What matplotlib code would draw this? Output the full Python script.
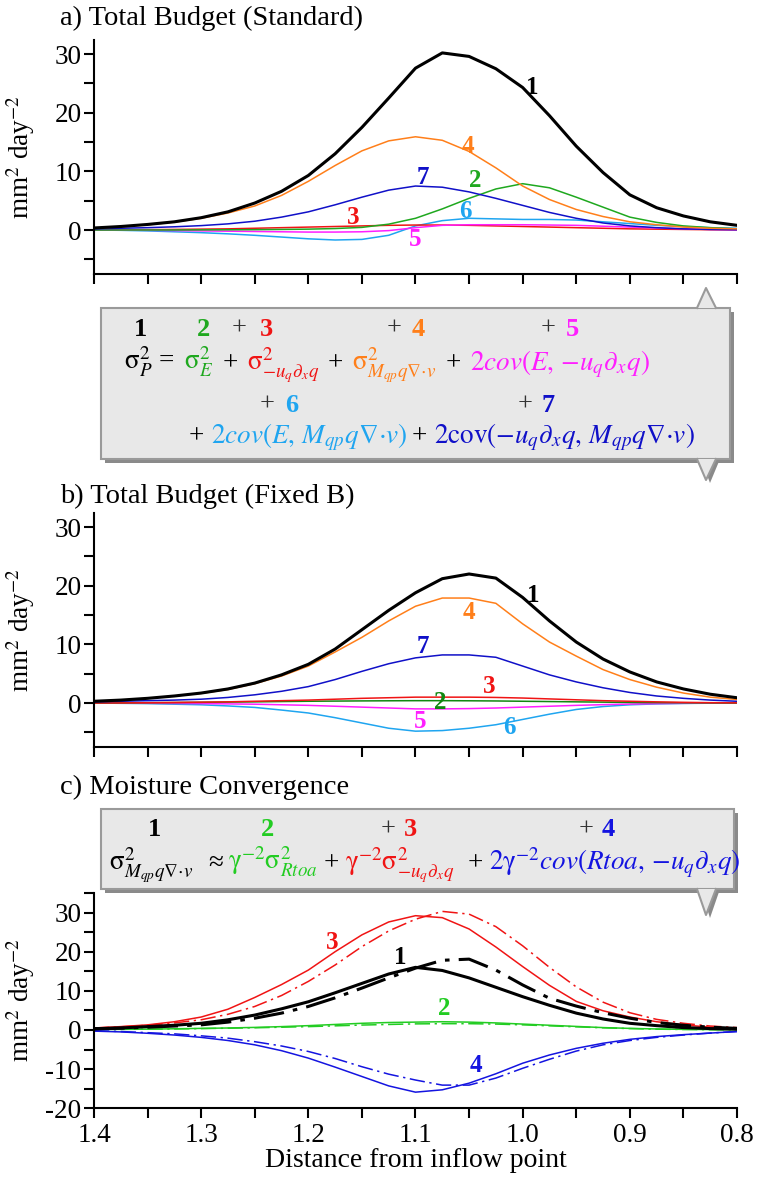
import matplotlib
matplotlib.use("Agg")
import matplotlib.pyplot as plt
from matplotlib.patches import Rectangle, Polygon
from matplotlib.ticker import MultipleLocator

plt.rcParams['font.family'] = ['Liberation Serif', 'DejaVu Serif']
plt.rcParams['mathtext.fontset'] = 'stix'
plt.rcParams['axes.unicode_minus'] = False

# distance from inflow point (every 0.025)
dist = [1.4, 1.375, 1.35, 1.325, 1.3, 1.275, 1.25, 1.225, 1.2, 1.175, 1.15, 1.125, 1.1,
        1.075, 1.05, 1.025, 1.0, 0.975, 0.95, 0.925, 0.9, 0.875, 0.85, 0.825, 0.8]

# a) Total Budget (Standard)
a_total = [0.35, 0.6, 0.95, 1.4, 2.1, 3.1, 4.6, 6.6, 9.3, 13.0, 17.5, 22.5, 27.6,
           30.2, 29.6, 27.5, 24.3, 19.5, 14.3, 9.8, 6.0, 3.8, 2.4, 1.4, 0.8]
a_evap = [0.0, 0.0, 0.0, 0.0, 0.02, 0.04, 0.06, 0.1, 0.15, 0.25, 0.45, 1.0, 2.0,
          3.6, 5.4, 7.0, 7.9, 7.2, 5.6, 3.9, 2.2, 1.3, 0.7, 0.4, 0.2]
a_adv = [0.0, 0.03, 0.06, 0.1, 0.15, 0.2, 0.3, 0.4, 0.5, 0.6, 0.7, 0.8, 0.85,
         0.85, 0.8, 0.7, 0.6, 0.5, 0.4, 0.3, 0.2, 0.15, 0.1, 0.05, 0.03]
a_conv = [0.3, 0.55, 0.9, 1.35, 2.0, 2.9, 4.1, 5.9, 8.3, 11.0, 13.5, 15.2, 15.9,
          15.3, 13.4, 10.6, 7.5, 5.2, 3.5, 2.3, 1.4, 0.9, 0.5, 0.3, 0.2]
a_cov_e_adv = [0.0, -0.02, -0.05, -0.1, -0.15, -0.2, -0.25, -0.3, -0.35, -0.35, -0.3, -0.1, 0.4,
               0.8, 0.9, 0.9, 0.9, 0.85, 0.8, 0.65, 0.5, 0.35, 0.2, 0.1, 0.05]
a_cov_e_conv = [0.0, -0.05, -0.15, -0.3, -0.45, -0.65, -0.9, -1.2, -1.5, -1.7, -1.6, -0.9, 0.7,
                1.6, 2.0, 1.9, 1.8, 1.8, 1.7, 1.4, 1.1, 0.8, 0.6, 0.4, 0.3]
a_cov_adv_conv = [0.2, 0.3, 0.4, 0.55, 0.75, 1.05, 1.5, 2.2, 3.1, 4.3, 5.6, 6.8, 7.5,
                  7.3, 6.5, 5.4, 4.2, 3.0, 2.0, 1.2, 0.7, 0.4, 0.2, 0.1, 0.05]

# b) Total Budget (Fixed B)
b_total = [0.3, 0.5, 0.8, 1.2, 1.7, 2.4, 3.4, 4.8, 6.6, 9.2, 12.5, 15.8, 18.8,
           21.2, 22.0, 21.3, 18.0, 14.0, 10.4, 7.5, 5.3, 3.6, 2.4, 1.5, 0.9]
b_evap = [0.0, 0.02, 0.05, 0.08, 0.12, 0.16, 0.2, 0.25, 0.3, 0.33, 0.36, 0.38, 0.4,
          0.4, 0.38, 0.35, 0.3, 0.25, 0.2, 0.15, 0.1, 0.07, 0.04, 0.02, 0.01]
b_adv = [0.0, 0.02, 0.05, 0.1, 0.15, 0.2, 0.3, 0.4, 0.5, 0.65, 0.8, 0.9, 1.0,
         1.0, 1.0, 0.95, 0.85, 0.7, 0.55, 0.4, 0.3, 0.2, 0.12, 0.06, 0.03]
b_conv = [0.3, 0.5, 0.8, 1.2, 1.65, 2.3, 3.3, 4.6, 6.3, 8.7, 11.2, 14.0, 16.5,
          17.9, 17.9, 17.0, 13.5, 10.4, 8.0, 5.7, 4.0, 2.7, 1.7, 1.0, 0.6]
b_cov_e_adv = [0.0, -0.02, -0.04, -0.07, -0.1, -0.15, -0.2, -0.3, -0.4, -0.55, -0.7, -0.85, -1.0,
               -1.0, -0.95, -0.85, -0.7, -0.55, -0.4, -0.28, -0.18, -0.1, -0.05, -0.02, 0.0]
b_cov_e_conv = [0.0, -0.05, -0.1, -0.2, -0.3, -0.5, -0.75, -1.2, -1.7, -2.5, -3.4, -4.3, -4.8,
                -4.7, -4.3, -3.7, -2.8, -1.9, -1.1, -0.6, -0.3, -0.15, -0.07, -0.03, 0.0]
b_cov_adv_conv = [0.2, 0.3, 0.4, 0.5, 0.65, 0.95, 1.4, 2.0, 2.8, 4.0, 5.4, 6.7, 7.7,
                  8.2, 8.2, 7.8, 6.3, 4.8, 3.6, 2.6, 1.8, 1.2, 0.8, 0.5, 0.3]

# c) Moisture Convergence (solid = standard, dash-dot = fixed B)
c_total = [0.3, 0.5, 0.85, 1.2, 1.7, 2.6, 3.8, 5.4, 7.2, 9.5, 11.9, 14.3, 16.0,
           15.2, 13.3, 10.9, 8.5, 6.3, 4.3, 2.8, 1.7, 1.1, 0.6, 0.35, 0.2]
c_total_fix = [0.3, 0.45, 0.7, 1.0, 1.3, 2.0, 3.0, 4.3, 6.0, 8.2, 10.7, 13.3, 15.8,
               17.8, 18.1, 15.3, 11.5, 8.1, 6.1, 4.4, 3.0, 1.9, 1.2, 0.7, 0.4]
c_rad = [0.1, 0.15, 0.2, 0.3, 0.4, 0.5, 0.65, 0.85, 1.1, 1.4, 1.7, 1.9, 2.0,
         2.1, 2.0, 1.8, 1.5, 1.2, 0.9, 0.6, 0.4, 0.25, 0.15, 0.1, 0.05]
c_rad_fix = [0.1, 0.15, 0.2, 0.25, 0.35, 0.45, 0.55, 0.7, 0.85, 1.05, 1.25, 1.4, 1.55,
             1.6, 1.6, 1.5, 1.3, 1.05, 0.8, 0.55, 0.35, 0.2, 0.12, 0.07, 0.04]
c_adv = [0.5, 0.85, 1.3, 2.1, 3.3, 5.3, 8.3, 11.6, 15.3, 20.0, 24.3, 27.6, 29.2,
         28.7, 25.8, 21.2, 16.2, 11.4, 7.3, 4.9, 3.3, 2.1, 1.3, 0.7, 0.4]
c_adv_fix = [0.5, 0.8, 1.2, 1.8, 2.6, 4.0, 6.0, 8.8, 12.4, 16.6, 21.3, 25.3, 28.3,
             30.3, 29.6, 26.4, 21.5, 16.0, 11.0, 7.1, 4.4, 2.7, 1.7, 1.0, 0.6]
c_cov = [-0.3, -0.5, -0.85, -1.3, -1.9, -2.7, -3.8, -5.3, -7.2, -9.5, -11.9, -14.3, -15.9,
         -15.3, -13.6, -11.2, -8.5, -6.4, -4.7, -3.4, -2.4, -1.7, -1.2, -0.8, -0.4]
c_cov_fix = [-0.2, -0.4, -0.7, -1.0, -1.5, -2.1, -3.0, -4.1, -5.5, -7.3, -9.4, -11.3, -12.8,
             -14.1, -14.1, -12.3, -9.8, -7.5, -5.4, -3.8, -2.7, -1.9, -1.3, -0.8, -0.4]

BLACK = 'black'
GREEN = '#1fa81f'
RED = '#f01414'
ORANGE = '#ff7f1a'
MAGENTA = '#ff1fff'
CYAN = '#1fa5f0'
BLUE = '#1010c8'
GREEN_C = '#22cc22'
BLUE_C = '#1414e0'

W, H = 757, 1182
fig = plt.figure(figsize=(W / 100, H / 100), dpi=100)


def fx(px):
    return px / W


def fy(py):
    return 1 - py / H


def make_axes(top, bottom):
    ax = fig.add_axes([fx(94), fy(bottom), 643 / W, (bottom - top) / H])
    ax.spines['top'].set_visible(False)
    ax.spines['right'].set_visible(False)
    for s in ['left', 'bottom']:
        ax.spines[s].set_linewidth(1.5)
    ax.set_xlim(1.4, 0.8)
    ax.xaxis.set_major_locator(MultipleLocator(0.1))
    ax.xaxis.set_minor_locator(MultipleLocator(0.05))
    ax.yaxis.set_major_locator(MultipleLocator(10))
    ax.yaxis.set_minor_locator(MultipleLocator(5))
    ax.tick_params(which='both', direction='out', length=7, width=1.5, labelsize=19.5, pad=2)
    ax.set_ylabel(r'mm$^2$ day$^{-2}$', fontsize=19.5)
    ax.yaxis.set_label_coords(-0.088, 0.5)
    return ax


# ---- panel a
ax = make_axes(40, 274.3)
ax.set_ylim(-7.55, 32.4)
ax.tick_params(axis='x', labelbottom=False)
ax.plot(dist, a_cov_e_conv, color=CYAN, lw=1.1)
ax.plot(dist, a_adv, color=RED, lw=1.1)
ax.plot(dist, a_cov_e_adv, color=MAGENTA, lw=1.1)
ax.plot(dist, a_evap, color=GREEN, lw=1.1)
ax.plot(dist, a_cov_adv_conv, color=BLUE, lw=1.1)
ax.plot(dist, a_conv, color=ORANGE, lw=1.1)
ax.plot(dist, a_total, color=BLACK, lw=2.2)
for s, c, x, y in [('1', BLACK, 0.991, 24.3), ('4', ORANGE, 1.051, 14.3), ('7', BLUE, 1.093, 9.0),
                   ('2', GREEN, 1.044, 8.5), ('6', CYAN, 1.053, 3.2), ('3', RED, 1.158, 2.2),
                   ('5', MAGENTA, 1.1, -1.6)]:
    ax.text(x, y, s, color=c, fontsize=18, fontweight='bold', ha='center', va='center')

# ---- panel b
ax = make_axes(513, 747.3)
ax.set_ylim(-7.55, 32.4)
ax.tick_params(axis='x', labelbottom=False)
ax.plot(dist, b_cov_e_conv, color=CYAN, lw=1.1)
ax.plot(dist, b_cov_e_adv, color=MAGENTA, lw=1.1)
ax.plot(dist, b_evap, color='#118811', lw=1.1)
ax.plot(dist, b_adv, color=RED, lw=1.1)
ax.plot(dist, b_cov_adv_conv, color=BLUE, lw=1.1)
ax.plot(dist, b_conv, color=ORANGE, lw=1.1)
ax.plot(dist, b_total, color=BLACK, lw=2.2)
for s, c, x, y in [('1', BLACK, 0.99, 18.4), ('4', ORANGE, 1.05, 15.4), ('7', BLUE, 1.093, 9.6),
                   ('3', RED, 1.031, 2.8), ('2', '#118811', 1.077, 0.05), ('5', MAGENTA, 1.096, -3.2),
                   ('6', CYAN, 1.012, -4.2)]:
    ax.text(x, y, s, color=c, fontsize=18, fontweight='bold', ha='center', va='center')

# ---- panel c
ax = make_axes(893, 1108.2)
ax.set_ylim(-20, 35)
ax.set_yticks([-20, -10, 0, 10, 20, 30])
dd = (0, (10, 3, 1.5, 3))
ax.plot(dist, c_rad, color=GREEN_C, lw=1.1)
ax.plot(dist, c_rad_fix, color=GREEN_C, lw=1.1, ls=dd)
ax.plot(dist, c_cov, color=BLUE_C, lw=1.1)
ax.plot(dist, c_cov_fix, color=BLUE_C, lw=1.1, ls=dd)
ax.plot(dist, c_adv, color=RED, lw=1.1)
ax.plot(dist, c_adv_fix, color=RED, lw=1.1, ls=dd)
ax.plot(dist, c_total, color=BLACK, lw=2.2)
ax.plot(dist, c_total_fix, color=BLACK, lw=2.2, ls=dd)
ax.set_xticks([1.4, 1.3, 1.2, 1.1, 1.0, 0.9, 0.8])
ax.set_xticklabels(['1.4', '1.3', '1.2', '1.1', '1.0', '0.9', '0.8'])
ax.tick_params(axis='x', pad=4)
ax.set_xlabel('Distance from inflow point', fontsize=20, labelpad=0)
for s, c, x, y in [('3', RED, 1.178, 22.3), ('1', BLACK, 1.114, 18.5),
                   ('2', GREEN_C, 1.073, 5.4), ('4', BLUE_C, 1.044, -9.2)]:
    ax.text(x, y, s, color=c, fontsize=18, fontweight='bold', ha='center', va='center')

# ---- panel titles
fig.text(fx(60), fy(18), 'a) Total Budget (Standard)', fontsize=20.5, va='center')
fig.text(fx(60), fy(496), 'b) Total Budget (Fixed B)', fontsize=20.5, va='center')
fig.text(fx(60), fy(787), 'c) Moisture Convergence', fontsize=20.5, va='center')


# ---- equation boxes
def callout(left, top, right, bottom, wedges):
    shadow = Rectangle((fx(left + 4), fy(bottom + 4)), (right - left) / W, (bottom - top) / H,
                       transform=fig.transFigure, facecolor='#8a8a8a', edgecolor='none', zorder=1)
    box = Rectangle((fx(left), fy(bottom)), (right - left) / W, (bottom - top) / H,
                    transform=fig.transFigure, facecolor='#e8e8e8', edgecolor='#9a9a9a', lw=1.5, zorder=2)
    fig.add_artist(shadow)
    fig.add_artist(box)
    for base, tip in wedges:
        pts = [(fx(697), fy(base)), (fx(706), fy(tip)), (fx(716), fy(base))]
        if tip > base:
            sh = [(fx(697 + 4), fy(base)), (fx(706 + 4), fy(tip + 3)), (fx(716 + 4), fy(base))]
            fig.add_artist(Polygon(sh, closed=True, transform=fig.transFigure,
                                   facecolor='#8a8a8a', edgecolor='none', zorder=1))
        fig.add_artist(Polygon(pts, closed=True, transform=fig.transFigure,
                               facecolor='#e8e8e8', edgecolor='none', zorder=2.1))
        fig.add_artist(plt.Line2D([p[0] for p in pts], [p[1] for p in pts], transform=fig.transFigure,
                                  color='#9a9a9a', lw=1.5, zorder=2.2))


callout(101, 308, 730, 459, [(308, 288), (459, 480)])
callout(101, 809, 734, 889, [(889, 915)])

renderer = fig.canvas.get_renderer()


def chain(x0, y, pieces, size=19.5, gap=9):
    x = x0
    for s, c in pieces:
        t = fig.text(fx(x), fy(y), s, color=c, fontsize=size, va='baseline', ha='left', zorder=5)
        x += t.get_window_extent(renderer=renderer).width + gap


def place(y, items, size=19.5):
    for x, s, c in items:
        fig.text(fx(x), fy(y), s, color=c, fontsize=size, va='baseline', ha='left', zorder=5)


def numbers(y, items, size=19):
    for s, c, x in items:
        w = 'normal' if s == '+' else 'bold'
        fig.text(fx(x), fy(y), s, color=c, fontsize=size, fontweight=w,
                 ha='center', va='center', zorder=5)


S = r'\mathrm{σ}'
G = r'\mathrm{γ}'
DIV = r'\nabla{\cdot}v'
ADV = r'{-}u_q\partial_x q'
numbers(329, [('1', BLACK, 141), ('2', GREEN, 203), ('+', '#333333', 239), ('3', RED, 266),
              ('+', '#333333', 394), ('4', ORANGE, 418), ('+', '#333333', 548), ('5', MAGENTA, 572)])
chain(124, 370, [(rf'${S}^2_P$ =', BLACK), (rf'${S}^2_E$', GREEN), ('+', BLACK),
                 (rf'${S}^2_{{{ADV}}}$', RED), ('+', BLACK),
                 (rf'${S}^2_{{M_{{qp}}q{DIV}}}$', ORANGE), ('+', BLACK),
                 (rf'$2cov(E,\,{ADV})$', MAGENTA)])
numbers(405, [('+', '#333333', 267), ('6', CYAN, 292), ('+', '#333333', 525), ('7', BLUE, 548)])
place(443, [(189, '+', BLACK), (211, rf'$2cov(E,\,M_{{qp}}q{DIV})$', CYAN), (412, '+', BLACK),
            (434, rf'$2\mathrm{{cov}}({ADV},\,M_{{qp}}q{DIV})$', BLUE)])

numbers(830, [('1', BLACK, 155), ('2', GREEN_C, 267), ('+', '#333333', 388), ('3', RED, 410),
              ('+', '#333333', 586), ('4', BLUE_C, 608)])
place(870, [(109, rf'${S}^2_{{M_{{qp}}q{DIV}}}$', BLACK), (208, '≈', BLACK),
            (228, rf'${G}^{{-2}}{S}^2_{{Rtoa}}$', GREEN_C), (324, '+', BLACK),
            (345, rf'${G}^{{-2}}{S}^2_{{{ADV}}}$', RED), (468, '+', BLACK),
            (489, rf'$2{G}^{{-2}}cov(Rtoa,\,{ADV})$', BLUE_C)])

fig.savefig('out.png', dpi=100)
